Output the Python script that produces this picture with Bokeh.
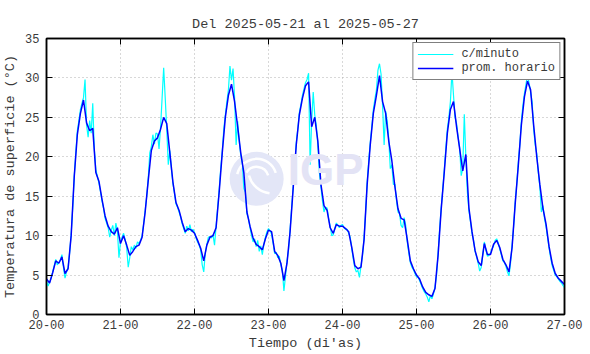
import numpy as np
from bokeh.plotting import figure
from bokeh.models import FixedTicker, LinearAxis, Range1d, Legend, LegendItem, Label
from bokeh.embed import file_html
from bokeh.resources import INLINE

titulo = "Del 2025-05-21 al 2025-05-27"
etiqueta_x = "Tiempo (di'as)"
etiqueta_y = "Temperatura de superficie (°C)"
dias_ticks = [20, 21, 22, 23, 24, 25, 26, 27]
dias_labels = ["20-00", "21-00", "22-00", "23-00", "24-00", "25-00", "26-00", "27-00"]
y_ticks = [0, 5, 10, 15, 20, 25, 30, 35]

# promedio horario (one value per hour, from day 20 00h to day 27 00h)
prom_d20 = [4.5, 4.0, 5.3, 6.8, 6.5, 7.3, 5.2, 5.8, 10.0, 17.5, 22.8, 25.5, 27.2, 24.3, 23.3, 23.6, 18.0, 16.9, 14.6, 12.5, 11.2, 10.5, 10.2, 11.0]
prom_d21 = [9.0, 10.0, 8.8, 7.5, 8.0, 8.6, 8.8, 9.8, 13.0, 17.0, 20.8, 22.0, 22.4, 23.5, 25.0, 24.2, 20.5, 16.8, 14.2, 13.2, 11.7, 10.5, 10.9, 10.7]
prom_d22 = [10.3, 9.4, 8.4, 6.8, 8.8, 9.8, 10.0, 11.0, 15.5, 20.5, 25.0, 27.8, 29.2, 27.0, 23.8, 20.5, 18.0, 13.0, 11.2, 9.7, 8.9, 8.6, 8.2, 9.6]
prom_d23 = [10.7, 10.5, 8.0, 7.5, 6.5, 4.3, 6.5, 10.5, 16.0, 21.5, 25.3, 27.4, 29.0, 29.5, 23.8, 25.0, 22.0, 16.5, 13.8, 13.2, 11.0, 10.3, 11.4, 11.2]
prom_d24 = [11.2, 10.9, 10.5, 8.5, 6.2, 5.8, 6.0, 9.5, 16.5, 21.5, 25.5, 27.8, 30.3, 27.0, 25.5, 22.0, 19.5, 16.2, 13.4, 12.2, 12.0, 9.5, 6.8, 5.8]
prom_d25 = [5.0, 4.5, 3.5, 2.8, 2.5, 2.3, 3.3, 7.5, 13.3, 18.0, 23.0, 26.0, 27.0, 23.8, 21.0, 18.2, 20.3, 13.5, 10.5, 8.1, 6.7, 6.2, 9.0, 7.6]
prom_d26 = [7.6, 8.9, 9.4, 8.5, 7.0, 6.3, 5.4, 8.5, 14.0, 18.8, 24.0, 27.6, 29.6, 28.5, 24.0, 20.0, 16.5, 13.5, 11.5, 8.6, 6.5, 5.2, 4.6, 4.2]
prom_d27 = [3.8]

# c/minuto (read every half hour)
min_d20 = [4.3, 3.6, 4.1, 4.6, 5.4, 6.2, 7.0, 6.3, 6.6, 6.9, 7.6, 6.0, 4.6, 5.4, 6.0, 7.8, 10.2, 13.5, 17.5, 20.5, 23.3, 24.6, 26.0, 26.8, 27.5, 29.8, 24.0, 22.5, 24.6, 23.0, 26.8, 21.0, 18.4, 17.5, 16.7, 15.6, 14.4, 13.5, 12.2, 11.6, 11.0, 9.8, 10.7, 11.3, 10.0, 11.6, 10.6, 7.2]
min_d21 = [9.2, 9.8, 10.3, 9.5, 8.5, 6.0, 7.2, 8.6, 8.2, 8.8, 8.4, 9.2, 9.0, 9.4, 10.0, 11.5, 13.2, 15.0, 17.3, 20.5, 21.3, 22.8, 21.6, 23.0, 22.9, 21.0, 23.8, 27.5, 31.3, 27.5, 23.5, 19.0, 20.8, 18.5, 16.6, 15.4, 14.0, 13.6, 13.0, 12.4, 11.5, 10.9, 10.3, 11.2, 10.6, 11.4, 10.5, 10.8]
min_d22 = [10.4, 9.7, 9.2, 8.8, 8.2, 6.3, 5.4, 7.8, 8.9, 9.8, 9.9, 9.7, 10.1, 8.8, 11.2, 13.5, 15.8, 18.5, 20.7, 23.5, 25.3, 27.0, 28.5, 31.5, 29.7, 31.2, 27.5, 21.5, 24.5, 22.0, 20.2, 19.2, 16.0, 15.5, 12.8, 12.2, 11.0, 10.0, 9.2, 9.6, 8.6, 9.4, 8.0, 8.7, 7.6, 8.9, 9.8, 10.5]
min_d23 = [10.9, 10.6, 10.2, 9.0, 7.7, 7.9, 7.2, 7.4, 6.3, 5.6, 3.0, 4.8, 6.8, 8.2, 10.8, 13.5, 16.2, 18.8, 21.8, 23.5, 25.6, 26.6, 27.8, 28.6, 29.4, 29.8, 30.6, 19.0, 24.5, 28.2, 25.3, 24.0, 21.5, 18.0, 16.2, 14.4, 13.0, 13.6, 13.5, 12.2, 11.2, 10.0, 10.1, 10.9, 11.6, 11.3, 11.0, 11.3]
min_d24 = [11.4, 11.0, 10.8, 10.8, 10.3, 9.8, 8.4, 7.0, 5.9, 5.4, 5.6, 4.7, 6.2, 7.5, 9.8, 13.0, 16.8, 19.5, 21.8, 23.8, 26.0, 27.3, 28.5, 31.0, 31.8, 30.5, 26.5, 21.5, 25.8, 24.5, 22.3, 18.5, 19.0, 16.5, 16.5, 14.5, 13.0, 12.8, 11.3, 11.0, 12.3, 11.3, 9.2, 7.8, 6.6, 6.0, 5.7, 5.2]
min_d25 = [4.8, 4.7, 4.3, 3.8, 3.3, 2.9, 2.6, 2.2, 1.6, 2.4, 2.0, 2.6, 3.5, 5.0, 7.8, 10.8, 13.5, 15.8, 18.3, 21.0, 23.5, 25.0, 27.0, 30.8, 27.8, 25.0, 24.2, 22.5, 21.2, 17.6, 18.5, 25.4, 20.0, 15.5, 13.2, 11.8, 10.3, 9.4, 8.0, 7.3, 6.5, 5.5, 6.0, 7.6, 9.2, 8.2, 7.4, 7.5]
min_d26 = [7.8, 8.3, 8.7, 9.4, 9.6, 9.1, 8.3, 7.6, 6.8, 6.6, 6.1, 5.4, 4.9, 6.5, 8.8, 11.2, 14.2, 16.5, 19.2, 21.5, 24.5, 26.5, 28.0, 29.2, 30.4, 29.4, 28.2, 27.0, 23.5, 21.5, 20.4, 18.0, 16.2, 13.0, 13.8, 12.2, 11.2, 9.8, 8.4, 7.2, 6.2, 5.6, 5.0, 4.8, 4.5, 4.2, 4.0, 3.7]
min_d27 = [3.4]

prom_horario = prom_d20 + prom_d21 + prom_d22 + prom_d23 + prom_d24 + prom_d25 + prom_d26 + prom_d27
c_minuto = min_d20 + min_d21 + min_d22 + min_d23 + min_d24 + min_d25 + min_d26 + min_d27
t_hora = 20 + np.arange(len(prom_horario)) / 24.0
t_min = 20 + np.arange(len(c_minuto)) / 48.0

FONT = "Liberation Mono"
TXT = "#3a3a3a"

p = figure(width=590, height=354, x_range=Range1d(20, 27), y_range=Range1d(0, 35),
           output_backend="svg", toolbar_location=None,
           min_border_left=46, min_border_right=26, min_border_top=38, min_border_bottom=40,
           background_fill_color="white", border_fill_color="white")

p.title.text = titulo
p.title.align = "center"
p.title.vertical_align = "top"
p.title.text_font = FONT
p.title.text_font_size = "13.5px"
p.title.text_font_style = "normal"
p.title.text_color = TXT

# watermark (IGP logo)
p.scatter(x=[22.84], y=[17.2], size=54, marker="circle", fill_color="#e3e6f7", line_color=None)
p.arc(x=[22.84, 22.84, 23.05], y=[17.2, 17.2, 18.4], radius=[12, 20, 24], radius_units="screen",
      start_angle=[0.3, 0.3, 3.4], end_angle=[2.6, 2.9, 4.6], line_color="white", line_width=2.5)
p.add_layout(Label(x=23.26, y=15.3, text="IGP", text_font="Liberation Sans", text_font_style="bold",
                   text_font_size="44px", text_color="#e3e3f5"))

r_min = p.line(t_min, c_minuto, line_color="#00ffff", line_width=1.2)
r_hor = p.line(t_hora, prom_horario, line_color="#0000ff", line_width=1.5)

# axes
for ax in (p.xaxis[0], p.yaxis[0]):
    ax.major_tick_in = 6
    ax.major_tick_out = 0
    ax.minor_tick_line_color = None
    ax.axis_line_color = "black"
    ax.axis_line_width = 1.5
    ax.major_tick_line_color = "black"
    ax.major_label_text_font = FONT
    ax.major_label_text_font_size = "12px"
    ax.major_label_text_color = TXT
    ax.axis_label_text_font = FONT
    ax.axis_label_text_font_size = "13.5px"
    ax.axis_label_text_font_style = "normal"
    ax.axis_label_text_color = TXT
    ax.axis_label_standoff = 4

p.xaxis[0].ticker = FixedTicker(ticks=dias_ticks)
p.xaxis[0].major_label_overrides = {d: l for d, l in zip(dias_ticks, dias_labels)}
p.xaxis[0].axis_label = etiqueta_x
p.xaxis[0].major_label_standoff = 5
p.yaxis[0].ticker = FixedTicker(ticks=y_ticks)
p.yaxis[0].axis_label = etiqueta_y
p.yaxis[0].major_label_standoff = 7

# mirrored axes (ticks only, no labels)
top = LinearAxis(ticker=FixedTicker(ticks=dias_ticks), major_tick_in=6, major_tick_out=0,
                 minor_tick_line_color=None, major_label_text_color=None,
                 axis_line_color="black", axis_line_width=1.5, major_label_standoff=0)
right = LinearAxis(ticker=FixedTicker(ticks=y_ticks), major_tick_in=6, major_tick_out=0,
                   minor_tick_line_color=None, major_label_text_color=None,
                   axis_line_color="black", axis_line_width=1.5, major_label_standoff=0)
p.add_layout(top, "above")
p.add_layout(right, "right")

p.outline_line_color = "black"
p.outline_line_width = 1.5

for g in (p.xgrid[0], p.ygrid[0]):
    g.grid_line_color = "#b0b0b0"
    g.grid_line_dash = "1 3"
    g.grid_line_width = 1
p.xgrid[0].ticker = FixedTicker(ticks=dias_ticks)
p.ygrid[0].ticker = FixedTicker(ticks=y_ticks)

legend = Legend(items=[LegendItem(label="c/minuto", renderers=[r_min]),
                       LegendItem(label="prom. horario", renderers=[r_hor])],
                location="top_right", label_text_font=FONT, label_text_font_size="12px",
                label_text_color=TXT, glyph_width=36, glyph_height=12, label_height=12,
                spacing=0, padding=4, margin=4, border_line_color="black", border_line_width=1,
                background_fill_color="white", background_fill_alpha=1.0, label_standoff=8)
p.add_layout(legend)

open("out.html", "w").write(file_html(p, INLINE))
